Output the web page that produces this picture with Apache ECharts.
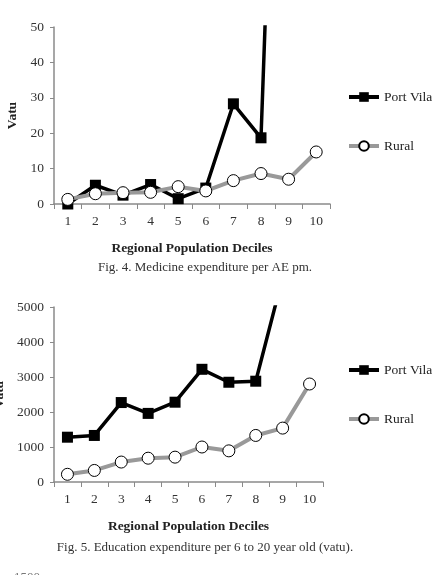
<!DOCTYPE html>
<html>
<head>
<meta charset="utf-8">
<script src="https://cdn.jsdelivr.net/npm/echarts@6/dist/echarts.min.js"></script>
<style>
  html, body { margin: 0; padding: 0; background: #fff; }
  #main { width: 432px; height: 575px; }
</style>
</head>
<body>
<div id="main"></div>
<script>
let deciles = ['1', '2', '3', '4', '5', '6', '7', '8', '9', '10'];

// Fig. 4 medicine expenditure per AE pm
let medPortVila = [0, 5.3, 2.5, 5.5, 1.5, 4.5, 28.3, 18.7, 235, null];
let medRural = [1.3, 2.9, 3.2, 3.3, 4.9, 3.7, 6.6, 8.6, 7.0, 14.7];

// Fig. 5 education expenditure per 6 to 20 year old
let eduPortVila = [1280, 1330, 2270, 1960, 2280, 3220, 2850, 2880, 5850, null];
let eduRural = [220, 330, 570, 680, 710, 1000, 890, 1330, 1540, 2800];

let serif = 'Liberation Serif';
let axisGray = '#8a8a8a';

let myChart = echarts.init(document.getElementById('main'));

function xAx(gridIndex) {
	return {
		gridIndex: gridIndex,
		type: 'category',
		data: deciles,
		name: 'Regional Population Deciles',
		nameLocation: 'middle',
		nameGap: 38,
		nameTextStyle: { fontFamily: serif, fontWeight: 'bold', fontSize: 13.5, color: '#222' },
		axisLine: { lineStyle: { color: axisGray, width: 1.5 } },
		axisTick: { show: true, length: 5, lineStyle: { color: axisGray } },
		axisLabel: { fontFamily: serif, fontSize: 13.5, color: '#333', margin: 10 }
	};
}

function yAx(gridIndex, max, interval, gap) {
	return {
		gridIndex: gridIndex,
		type: 'value',
		min: 0,
		max: max,
		interval: interval,
		name: 'Vatu',
		nameLocation: 'middle',
		nameGap: gap,
		nameTextStyle: { fontFamily: serif, fontWeight: 'bold', fontSize: 13.5, color: '#222' },
		splitLine: { show: false },
		axisLine: { show: true, lineStyle: { color: axisGray, width: 1.5 } },
		axisTick: { show: true, length: 4, lineStyle: { color: axisGray } },
		axisLabel: { fontFamily: serif, fontSize: 13.5, color: '#333', margin: 10,
			formatter: function (v) { return String(v); } }
	};
}

function portVila(idx, data) {
	return {
		name: 'Port Vila',
		type: 'line',
		xAxisIndex: idx,
		yAxisIndex: idx,
		data: data,
		clip: true,
		symbol: 'rect',
		symbolSize: 11,
		itemStyle: { color: '#000' },
		lineStyle: { color: '#000', width: 3.5 },
		z: 3
	};
}

function rural(idx, data) {
	return {
		name: 'Rural',
		type: 'line',
		xAxisIndex: idx,
		yAxisIndex: idx,
		data: data,
		clip: true,
		symbol: 'circle',
		symbolSize: 12,
		itemStyle: { color: '#fff', borderColor: '#000', borderWidth: 1 },
		lineStyle: { color: '#999', width: 4 },
		z: 4
	};
}

function legendAt(top) {
	return {
		orient: 'vertical',
		left: 347,
		top: top,
		padding: 0,
		itemGap: 35,
		itemWidth: 30,
		itemHeight: 12,
		lineStyle: { width: 4 },
		textStyle: { fontFamily: serif, fontSize: 13.5, color: '#222' },
		data: ['Port Vila', 'Rural']
	};
}

let option = {
	animation: false,
	backgroundColor: '#fff',
	title: [
		{ text: 'Fig. 4. Medicine expenditure per AE pm.', left: 205, top: 261, textAlign: 'center', padding: 0,
		  textStyle: { fontFamily: serif, fontSize: 13, fontWeight: 'normal', color: '#333' } },
		{ text: 'Fig. 5. Education expenditure per 6 to 20 year old (vatu).', left: 205, top: 541, textAlign: 'center', padding: 0,
		  textStyle: { fontFamily: serif, fontSize: 13, fontWeight: 'normal', color: '#333' } },
		{ text: '1500', left: 14, top: 571, padding: 0,
		  textStyle: { fontFamily: serif, fontSize: 13, fontWeight: 'normal', color: '#777' } }
	],
	legend: [legendAt(90), legendAt(363)],
	grid: [
		{ left: 54, top: 27, width: 276, height: 177, containLabel: false, outerBoundsMode: 'none' },
		{ left: 54, top: 307, width: 269, height: 175, containLabel: false, outerBoundsMode: 'none' }
	],
	xAxis: [xAx(0), xAx(1)],
	yAxis: [yAx(0, 50, 10, 30), yAx(1, 5000, 1000, 46)],
	series: [
		portVila(0, medPortVila),
		rural(0, medRural),
		portVila(1, eduPortVila),
		rural(1, eduRural)
	]
};
myChart.setOption(option);
</script>
</body>
</html>
